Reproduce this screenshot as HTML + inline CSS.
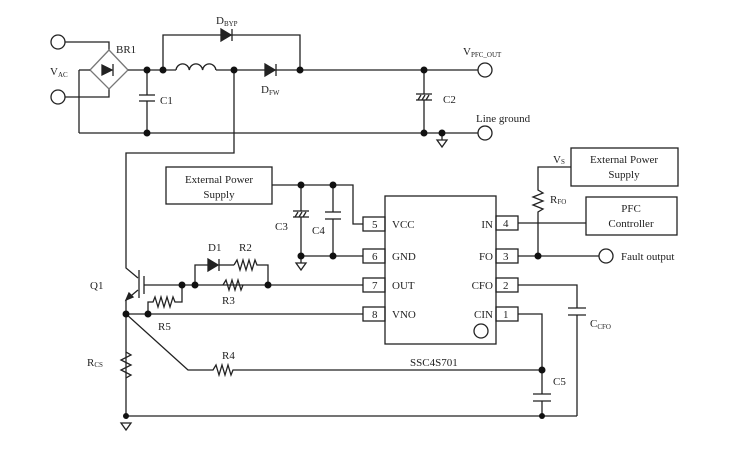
<!DOCTYPE html>
<html><head><meta charset="utf-8"><style>
html,body{margin:0;padding:0;background:#fff;}
svg{display:block;}
text{font-family:"Liberation Serif",serif;font-size:11px;fill:#222;}
</style></head><body>
<svg width="746" height="450" viewBox="0 0 746 450" xmlns="http://www.w3.org/2000/svg">
<g stroke="#222" stroke-width="1.3" fill="none">
<circle cx="58" cy="42" r="7"/>
<circle cx="58" cy="97" r="7"/>
<polyline points="65,42 109,42 109,50"/>
<polyline points="65,97 109,97 109,88"/>
<polygon points="109,50 128,70 109,89 90,70" stroke="#777"/>
<line x1="90" y1="70" x2="79" y2="70"/>
<line x1="79" y1="70" x2="79" y2="133"/>
<line x1="128" y1="70" x2="176" y2="70"/>
<line x1="147" y1="70" x2="147" y2="95"/>
<line x1="139" y1="95" x2="155" y2="95"/>
<line x1="139" y1="101" x2="155" y2="101"/>
<line x1="147" y1="101" x2="147" y2="133"/>
<line x1="79" y1="133" x2="478" y2="133"/>
<polyline points="163,70 163,35 300,35 300,70"/>
<path d="M176,70 a6.7,7 0 0 1 13.3,0 a6.7,7 0 0 1 13.3,0 a6.7,7 0 0 1 13.3,0"/>
<line x1="216" y1="70" x2="478" y2="70"/>
<polyline points="234,70 234,153 126,153 126,268 138,278"/>
<line x1="424" y1="70" x2="424" y2="94"/>
<line x1="416" y1="94" x2="432" y2="94"/>
<line x1="416" y1="100" x2="432" y2="100"/>
<line x1="418" y1="100" x2="421" y2="95"/><line x1="422" y1="100" x2="425" y2="95"/><line x1="426" y1="100" x2="429" y2="95"/>
<line x1="424" y1="100" x2="424" y2="133"/>
<circle cx="485" cy="70" r="7"/>
<circle cx="485" cy="133" r="7"/>
<line x1="442" y1="133" x2="442" y2="140"/>
<polygon points="437,140 447,140 442,147"/>
<rect x="166" y="167" width="106" height="37"/>
<polyline points="272,185 353,185 353,224 363,224"/>
<line x1="301" y1="185" x2="301" y2="211"/>
<line x1="293" y1="211" x2="309" y2="211"/>
<line x1="293" y1="217" x2="309" y2="217"/>
<line x1="295" y1="217" x2="298" y2="212"/><line x1="299" y1="217" x2="302" y2="212"/><line x1="303" y1="217" x2="306" y2="212"/>
<line x1="301" y1="217" x2="301" y2="263"/>
<polygon points="296,263 306,263 301,270"/>
<line x1="333" y1="185" x2="333" y2="212"/>
<line x1="325" y1="212" x2="341" y2="212"/>
<line x1="325" y1="219" x2="341" y2="219"/>
<line x1="333" y1="219" x2="333" y2="256"/>
<line x1="301" y1="256" x2="363" y2="256"/>
<rect x="385" y="196" width="111" height="148"/>
<rect x="363" y="217" width="22" height="14"/>
<rect x="363" y="249" width="22" height="14"/>
<rect x="363" y="278" width="22" height="14"/>
<rect x="363" y="307" width="22" height="14"/>
<rect x="496" y="216" width="22" height="14"/>
<rect x="496" y="249" width="22" height="14"/>
<rect x="496" y="278" width="22" height="14"/>
<rect x="496" y="307" width="22" height="14"/>
<circle cx="481" cy="331" r="7"/>
<line x1="139" y1="270" x2="139" y2="298"/>
<line x1="144" y1="276" x2="144" y2="294"/>
<line x1="144" y1="285" x2="363" y2="285"/>
<polyline points="138,290 126,300 126,416"/>
<polyline points="195,285 195,265 208,265"/>
<line x1="219" y1="265" x2="234" y2="265"/>
<polyline points="234,265 237,260 240,270 243,260 246,270 249,260 252,270 255,260 257,265 268,265 268,285"/>
<polyline points="223,285 226,280 229,290 232,280 235,290 238,280 241,290 243,285"/>
<polyline points="182,285 182,302 175,302 173,297 170,307 167,297 164,307 161,297 158,307 155,297 153,302 148,302 148,314"/>
<line x1="126" y1="314" x2="363" y2="314"/>
<polyline points="126,352 131,355 121,360 131,365 121,370 131,375 126,378"/>
<polyline points="126,314 188,370 213,370 216,365 219,375 222,365 225,375 228,365 231,375 233,370 542,370"/>
<polyline points="518,314 542,314 542,394"/>
<line x1="533" y1="394" x2="551" y2="394"/>
<line x1="533" y1="401" x2="551" y2="401"/>
<line x1="542" y1="401" x2="542" y2="416"/>
<line x1="126" y1="416" x2="577" y2="416"/>
<polygon points="121,423 131,423 126,430"/>
<polyline points="518,285 577,285 577,308"/>
<line x1="568" y1="308" x2="586" y2="308"/>
<line x1="568" y1="315" x2="586" y2="315"/>
<line x1="577" y1="315" x2="577" y2="416"/>
<line x1="518" y1="223" x2="586" y2="223"/>
<rect x="586" y="197" width="91" height="38"/>
<rect x="571" y="148" width="107" height="38"/>
<polyline points="571,167 538,167 538,190 543,193 533,197 543,201 533,205 543,209 538,212 538,256"/>
<line x1="518" y1="256" x2="599" y2="256"/>
<circle cx="606" cy="256" r="7"/>
</g>
<g fill="#222" stroke="#222" stroke-width="1.3">
<polygon points="102,65 102,75 112,70"/><line x1="113" y1="64" x2="113" y2="76"/>
<polygon points="221,29 221,41 231,35"/><line x1="232" y1="29" x2="232" y2="41"/>
<polygon points="265,64 265,76 275,70"/><line x1="276" y1="64" x2="276" y2="76"/>
<polygon points="208,259 208,271 218,265"/><line x1="219" y1="259" x2="219" y2="271"/>
<polygon points="126,300 129,293 133,297"/>
</g>
<g fill="#111">
<circle cx="147" cy="70" r="3.5"/><circle cx="163" cy="70" r="3.5"/><circle cx="234" cy="70" r="3.5"/>
<circle cx="300" cy="70" r="3.5"/><circle cx="424" cy="70" r="3.5"/><circle cx="147" cy="133" r="3.5"/>
<circle cx="424" cy="133" r="3.5"/><circle cx="442" cy="133" r="3.5"/>
<circle cx="301" cy="185" r="3.5"/><circle cx="333" cy="185" r="3.5"/>
<circle cx="301" cy="256" r="3.5"/><circle cx="333" cy="256" r="3.5"/>
<circle cx="182" cy="285" r="3.5"/><circle cx="195" cy="285" r="3.5"/><circle cx="268" cy="285" r="3.5"/>
<circle cx="126" cy="314" r="3.5"/><circle cx="148" cy="314" r="3.5"/>
<circle cx="538" cy="256" r="3.5"/><circle cx="542" cy="370" r="3.5"/>
<circle cx="542" cy="416" r="3"/><circle cx="126" cy="416" r="3"/>
</g>
<text x="116" y="53" font-size="12">BR1</text>
<text x="50" y="75" font-size="12">V<tspan font-size="7" dy="2">AC</tspan></text>
<text x="160" y="104">C1</text>
<text x="216" y="24">D<tspan font-size="7" dy="2">BYP</tspan></text>
<text x="261" y="93">D<tspan font-size="7" dy="2">FW</tspan></text>
<text x="463" y="55">V<tspan font-size="7" dy="2">PFC_OUT</tspan></text>
<text x="443" y="103">C2</text>
<text x="476" y="122">Line ground</text>
<text x="219" y="183" text-anchor="middle">External Power</text>
<text x="219" y="198" text-anchor="middle">Supply</text>
<text x="275" y="230">C3</text>
<text x="312" y="234">C4</text>
<text x="372" y="228">5</text><text x="372" y="260">6</text><text x="372" y="289">7</text><text x="372" y="318">8</text>
<text x="503" y="227">4</text><text x="503" y="260">3</text><text x="503" y="289">2</text><text x="503" y="318">1</text>
<text x="392" y="228">VCC</text><text x="392" y="260">GND</text><text x="392" y="289">OUT</text><text x="392" y="318">VNO</text>
<text x="493" y="228" text-anchor="end">IN</text><text x="493" y="260" text-anchor="end">FO</text>
<text x="493" y="289" text-anchor="end">CFO</text><text x="493" y="318" text-anchor="end">CIN</text>
<text x="208" y="251">D1</text><text x="239" y="251">R2</text><text x="222" y="304">R3</text>
<text x="90" y="289">Q1</text><text x="158" y="330">R5</text>
<text x="87" y="366">R<tspan font-size="7" dy="1">CS</tspan></text>
<text x="222" y="359">R4</text>
<text x="410" y="366">SSC4S701</text>
<text x="553" y="385">C5</text>
<text x="590" y="327">C<tspan font-size="7" dy="2">CFO</tspan></text>
<text x="553" y="163">V<tspan font-size="7" dy="1">S</tspan></text>
<text x="550" y="203">R<tspan font-size="7" dy="1">FO</tspan></text>
<text x="624" y="163" text-anchor="middle">External Power</text>
<text x="624" y="178" text-anchor="middle">Supply</text>
<text x="631" y="212" text-anchor="middle">PFC</text>
<text x="631" y="227" text-anchor="middle">Controller</text>
<text x="621" y="260">Fault output</text>
</svg>
</body></html>
